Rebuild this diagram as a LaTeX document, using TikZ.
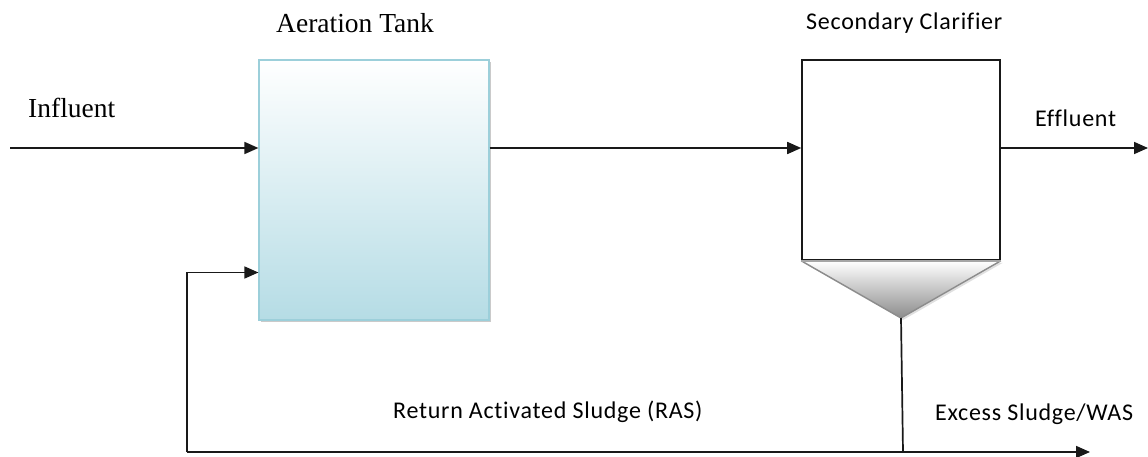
\documentclass[tikz,border=0pt]{standalone}
\usepackage{fontspec}
\setmainfont{Liberation Serif}
\setsansfont{Carlito}[LetterSpace=3, Ligatures=NoCommon]
\usetikzlibrary{arrows.meta,shadows}
\definecolor{tankedge}{HTML}{9CCFDA}
\definecolor{tankbottom}{HTML}{B5DCE5}
\definecolor{conegray}{HTML}{8C8C8C}
\tikzset{
  flow/.style={line width=1.7pt, black!90},
  arr/.style={flow, -{Triangle[length=14pt,width=12pt]}},
  serifl/.style={font=\fontsize{27.5}{30}\selectfont, inner sep=0pt, anchor=base west},
  sansl/.style={font=\sffamily\fontsize{24}{28}\selectfont, inner sep=0pt, anchor=base west},
  tankbox/.style={draw=tankedge, line width=1.2pt, top color=white, bottom color=tankbottom,
    minimum width=230pt, minimum height=260pt, inner sep=0pt,
    drop shadow={shadow xshift=2pt, shadow yshift=-2pt, opacity=0.35, fill=black!60}},
  clarbox/.style={draw=black!90, line width=1.6pt, fill=white,
    minimum width=198pt, minimum height=200pt, inner sep=0pt}
}
\begin{document}
\begin{tikzpicture}[x=1pt, y=-1pt]
\useasboundingbox (0,0) rectangle (1148,457);

% process units
\node[tankbox] (tank) at (374,190) {};
\node[clarbox] (clar) at (901,160) {};
\coordinate (tip) at (901,318);

% clarifier sludge hopper
\fill[black!20, opacity=0.6] ([xshift=2pt,yshift=-2pt]clar.south west) -- ([xshift=2pt,yshift=-2pt]clar.south east) -- ([xshift=2pt,yshift=-2pt]tip) -- cycle;
\shade[top color=white, bottom color=black!45] (clar.south west) -- (clar.south east) -- (tip) -- cycle;
\draw[conegray, line width=1.4pt, line join=round] (clar.south west) -- (tip) -- (clar.south east);
\draw[black!35, line width=2pt] (clar.south west) -- (clar.south east);

% end points of the open streams
\coordinate (inf) at (10,148);
\coordinate (eff) at (1148,148);
\coordinate (rasL) at (187,452);
\coordinate (rasT) at (187,272.5);
\coordinate (wasJ) at (903,452);
\coordinate (was) at (1090,452);

% flows
\draw[arr] (inf) -- (inf -| tank.west);
\draw[arr] (tank.east |- inf) -- (clar.west |- inf);
\draw[arr] (clar.east |- eff) -- (eff);
\draw[flow] (tip) -- (wasJ);
\draw[arr] (rasL) -- (was);
\draw[arr] (rasL) -- (rasT) -- (rasT -| tank.west);

% labels
\node[serifl] (linf) at (28,118) {Influent};
\node[serifl] (ltank) at (276,33) {Aeration Tank};
\node[sansl] (lclar) at (806,30) {Secondary Clarifier};
\node[sansl] (leff) at (1035,127) {Effluent};
\node[sansl] (lras) at (393,418) {Return Activated Sludge (RAS)};
\node[sansl] (lwas) at (935,420) {Excess Sludge/WAS};
\end{tikzpicture}
\end{document}
